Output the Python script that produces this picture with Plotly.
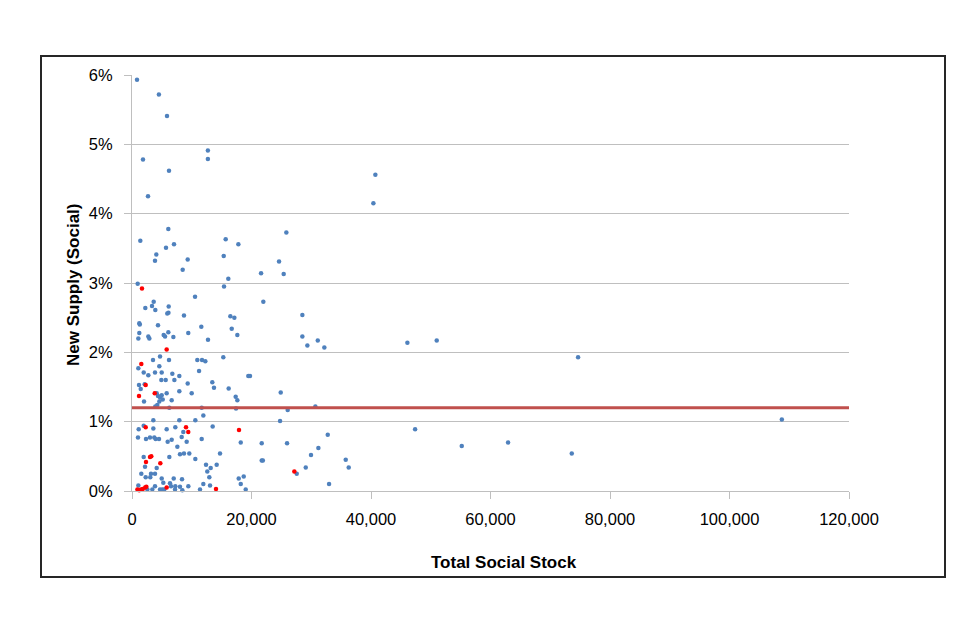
import plotly.graph_objects as go

# ---- data (Total Social Stock, New Supply % ) ----
blue_stock = [840, 4500, 5860, 12700, 12700, 1840, 6190, 2680, 40730, 40400,
              25830, 24610, 21600, 25390, 21980, 28510, 28510, 29350, 31090, 32190,
              46090, 51000, 74660, 108760, 47380, 55190, 62940, 73600, 19750, 24890,
              26060, 30690, 24780, 32760, 21710, 25950, 31190, 29960, 21710, 21900,
              29080, 35770, 36270, 27570, 32980,
              6080, 1390, 5690, 7030, 4070, 3850, 9320, 8480, 15680, 17800,
              15350, 16120, 15400, 950, 10550, 3630, 3350, 2230, 3900, 6140,
              6100, 5900, 8700, 16460, 17130, 1220, 1300, 4350, 11600, 16690,
              1220, 6080, 9420, 17630, 2730, 5300, 5530, 6920, 1060, 12720, 2900,
              1060, 4690, 3520, 6190, 4570, 1960, 2730, 3850, 4970, 6750,
              7920, 10930, 11720, 12270, 15280, 11220, 19470, 4910, 5640, 7090,
              2120, 1170, 1460, 4130, 4350, 4690, 4970, 5140, 4570, 4240,
              3900, 5800, 6640, 7920, 2010, 6250, 9320, 9990, 13440, 13720,
              16180, 17350, 17630, 17410, 11660, 3570, 7920, 10600, 11940, 1120,
              1960, 3570, 5800, 7250, 8590, 11660, 13500, 18200, 1000, 2340,
              3010, 3730, 3960, 4520, 5970, 6640, 8320, 9150, 7590, 6250,
              8030, 8700, 9590, 10600, 14730, 1960, 2180, 4130, 1560, 2290,
              3180, 3060, 4970, 3850, 6980, 8370, 5240, 6360, 12390, 13170,
              14170, 12940, 17860, 18700, 18200, 19030, 1060, 2570, 3400, 3850,
              4690, 6530, 7250, 8030, 5070, 5410, 9430, 8420, 11380, 11940,
              13060, 7200, 12600]
blue_supply = [5.93, 5.72, 5.41, 4.91, 4.79, 4.78, 4.62, 4.25, 4.56, 4.15,
               3.73, 3.31, 3.14, 3.13, 2.73, 2.54, 2.23, 2.10, 2.17, 2.07,
               2.14, 2.17, 1.93, 1.03, 0.89, 0.65, 0.70, 0.54, 1.66, 1.42,
               1.17, 1.22, 1.01, 0.81, 0.69, 0.69, 0.62, 0.52, 0.44, 0.44,
               0.34, 0.45, 0.34, 0.25, 0.10,
               3.78, 3.61, 3.51, 3.56, 3.41, 3.32, 3.34, 3.19, 3.63, 3.56,
               3.39, 3.06, 2.95, 2.99, 2.80, 2.73, 2.67, 2.64, 2.61, 2.66,
               2.57, 2.56, 2.53, 2.52, 2.50, 2.42, 2.40, 2.39, 2.37, 2.34,
               2.28, 2.29, 2.28, 2.25, 2.23, 2.25, 2.23, 2.22, 2.20, 2.18, 2.20,
               1.77, 1.94, 1.89, 1.89, 1.80, 1.71, 1.67, 1.71, 1.71, 1.69,
               1.66, 1.89, 1.89, 1.87, 1.93, 1.73, 1.66, 1.60, 1.60, 1.60,
               1.54, 1.53, 1.47, 1.41, 1.37, 1.35, 1.38, 1.32, 1.29, 1.24,
               1.22, 1.41, 1.31, 1.44, 1.29, 1.20, 1.55, 1.41, 1.57, 1.49,
               1.48, 1.36, 1.31, 1.19, 1.20, 1.02, 1.02, 1.02, 1.09, 0.89,
               0.94, 0.90, 0.89, 0.92, 0.85, 0.75, 0.93, 0.70, 0.77, 0.75,
               0.77, 0.77, 0.75, 0.75, 0.71, 0.74, 0.78, 0.71, 0.64, 0.49,
               0.53, 0.54, 0.54, 0.46, 0.54, 0.49, 0.35, 0.33, 0.25, 0.20,
               0.25, 0.20, 0.18, 0.25, 0.18, 0.17, 0.12, 0.11, 0.38, 0.33,
               0.38, 0.20, 0.18, 0.21, 0.10, 0.02, 0.08, 0.02, 0.02, 0.07,
               0.02, 0.07, 0.07, 0.06, 0.02, 0.02, 0.07, 0.01, 0.02, 0.10,
               0.08, 0.02, 0.28]

red_stock = [1670, 5800, 1560, 2290, 3800, 1170, 2290, 9040, 9420, 17910,
             3010, 3230, 2340, 4740, 900, 1200, 1500, 1800, 2200, 2400,
             5800, 14060, 27170]
red_supply = [2.92, 2.04, 1.83, 1.53, 1.41, 1.37, 0.92, 0.92, 0.85, 0.88,
              0.49, 0.50, 0.42, 0.40, 0.02, 0.01, 0.02, 0.03, 0.05, 0.06,
              0.05, 0.03, 0.28]

average_supply = 1.2
x_range = [0, 120000]
y_ticks = [0, 1, 2, 3, 4, 5, 6]
y_tick_labels = ["0%", "1%", "2%", "3%", "4%", "5%", "6%"]
x_ticks = [0, 20000, 40000, 60000, 80000, 100000, 120000]
x_tick_labels = ["0", "20,000", "40,000", "60,000", "80,000", "100,000", "120,000"]

# ---- layout geometry (page pixels; the page body has an 8px margin) ----
OFF = 8
W, H = 944, 624
L, R, T, B = 132 - OFF, 849 - OFF, 75 - OFF, 491 - OFF
pw, ph = R - L, B - T

def px_x(p):
    return (p - OFF - L) / pw

def px_y(p):
    return (B - (p - OFF)) / ph

FONT = "Liberation Sans"
grid = "#BFBFBF"

fig = go.Figure()
fig.add_trace(go.Scatter(x=blue_stock, y=blue_supply, mode="markers",
                         marker=dict(color="#4F81BD", size=4.5, symbol="circle"),
                         showlegend=False, cliponaxis=False))
fig.add_trace(go.Scatter(x=red_stock, y=red_supply, mode="markers",
                         marker=dict(color="#FF0000", size=4.5, symbol="circle"),
                         showlegend=False, cliponaxis=False))
fig.add_trace(go.Scatter(x=x_range, y=[average_supply, average_supply], mode="lines",
                         line=dict(color="#C0504D", width=3), showlegend=False))

fig.update_layout(
    width=W, height=H,
    margin=dict(l=L, r=W - R, t=T, b=H - B, pad=0),
    paper_bgcolor="white", plot_bgcolor="white",
    font=dict(family=FONT, size=16.5, color="#000000"),
    xaxis=dict(range=x_range, tickvals=x_ticks, ticktext=x_tick_labels,
               showgrid=False, zeroline=False,
               showline=True, linecolor=grid, linewidth=1,
               ticks="outside", ticklen=7, tickcolor=grid,
               ticklabelstandoff=6,
               tickfont=dict(size=16.5, family=FONT)),
    yaxis=dict(range=[0, 6], tickvals=y_ticks, ticktext=y_tick_labels,
               showgrid=True, gridcolor=grid, gridwidth=1, zeroline=False,
               showline=True, linecolor=grid, linewidth=1,
               ticks="outside", ticklen=7, tickcolor=grid,
               ticklabelstandoff=8,
               tickfont=dict(size=16.5, family=FONT)),
    shapes=[dict(type="rect", xref="paper", yref="paper",
                 x0=px_x(41), x1=px_x(945), y0=px_y(577), y1=px_y(56),
                 line=dict(color="#262626", width=2), fillcolor="rgba(0,0,0,0)",
                 layer="above")],
    annotations=[
        dict(text="<b>Total Social Stock</b>", xref="paper", yref="paper",
             x=px_x(504), y=px_y(562), xanchor="center", yanchor="middle",
             showarrow=False, font=dict(size=17, family=FONT)),
        dict(text="<b>New Supply (Social)</b>", xref="paper", yref="paper",
             x=px_x(73), y=px_y(285), xanchor="center", yanchor="middle",
             textangle=-90, showarrow=False, font=dict(size=17, family=FONT)),
    ],
)

fig.write_html("out.html")
